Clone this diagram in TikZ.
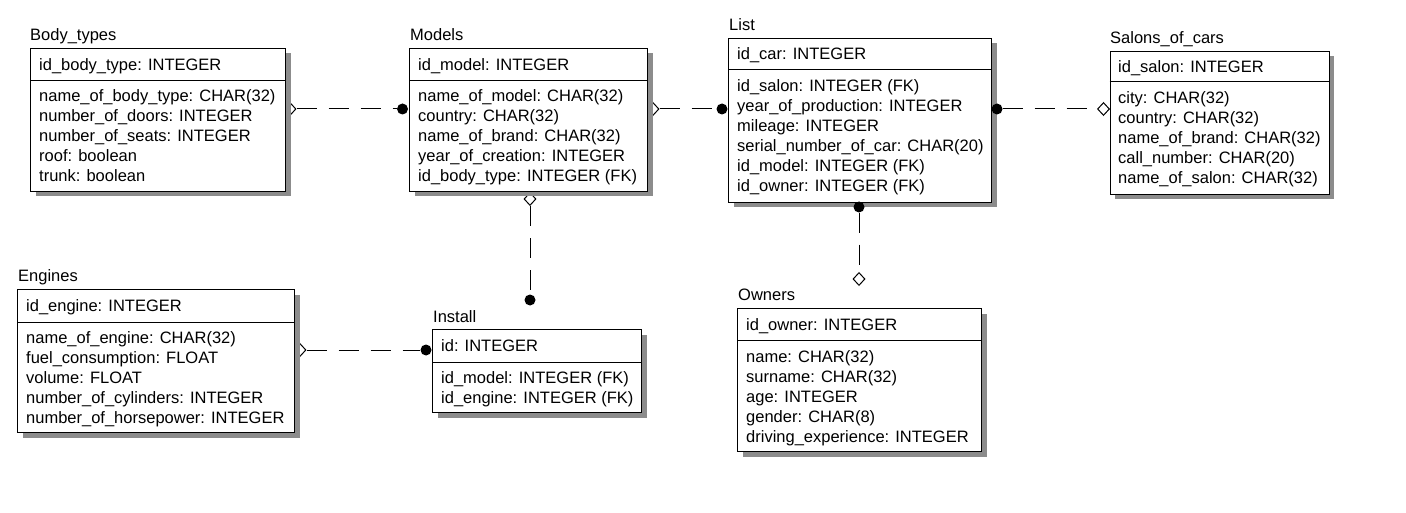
\documentclass[tikz,border=0pt]{standalone}
\usepackage{fontspec}
\setmainfont{Liberation Sans}
\usetikzlibrary{shapes.geometric,shadows}
\tikzset{
  tbl/.style={draw=black, line width=1pt, fill=white, inner sep=0pt, anchor=north west,
    drop shadow={shadow xshift=5pt, shadow yshift=-5pt, fill=black!45, opacity=1}},
  txt/.style={anchor=base west, inner sep=0pt, font=\fontsize{16.5}{20}\selectfont},
  sep/.style={line width=1pt},
  conn/.style={line width=1pt, dash pattern=on 20pt off 12pt},
  diam/.style={diamond, draw=black, line width=1pt, fill=white, inner sep=0pt, minimum width=12pt, minimum height=13pt},
  dotm/.style={circle, fill=black, inner sep=0pt, minimum size=11pt},
}
\begin{document}
\begin{tikzpicture}[x=1pt,y=-1pt]
\useasboundingbox (0,0) rectangle (1406,513);
\fill[white] (0,0) rectangle (1406,513);

% diamonds (drawn first so that the boxes hide half of some)
\node[diam] (d1) at (290,109) {};
\node[diam] (d2) at (653,109) {};
\node[diam] (d3) at (1103.5,109) {};
\node[diam] (d4) at (530,199) {};
\node[diam] (d5) at (300,350) {};
\node[diam] (d6) at (859,279) {};

% ---------- Body_types ----------
\node[tbl, minimum width=255pt, minimum height=143pt] (bt) at (30,48) {};
\draw[sep] (30,81) -- (285,81);
\node[txt] (bt-t) at (30,41) {Body\_types};
\node[txt] (bt-k) at (39,70.5) {id\_body\_type: INTEGER};
\foreach \t [count=\i] in {name\_of\_body\_type: CHAR(32), number\_of\_doors: INTEGER, number\_of\_seats: INTEGER, roof: boolean, trunk: boolean}
  \node[txt] (bt-r\i) at (39,{82+20*\i}) {\t};

% ---------- Models ----------
\node[tbl, minimum width=238pt, minimum height=143pt] (md) at (409,48) {};
\draw[sep] (409,81) -- (647,81);
\node[txt] (md-t) at (410,41) {Models};
\node[txt] (md-k) at (418,70.5) {id\_model: INTEGER};
\foreach \t [count=\i] in {name\_of\_model: CHAR(32), country: CHAR(32), name\_of\_brand: CHAR(32), year\_of\_creation: INTEGER, id\_body\_type: INTEGER (FK)}
  \node[txt] (md-r\i) at (418,{82+20*\i}) {\t};

% ---------- List ----------
\node[tbl, minimum width=263pt, minimum height=164pt] (li) at (728,38) {};
\draw[sep] (728,70) -- (991,70);
\node[txt] (li-t) at (729,31) {List};
\node[txt] (li-k) at (737,60) {id\_car: INTEGER};
\foreach \t [count=\i] in {id\_salon: INTEGER (FK), year\_of\_production: INTEGER, mileage: INTEGER, serial\_number\_of\_car: CHAR(20), id\_model: INTEGER (FK), id\_owner: INTEGER (FK)}
  \node[txt] (li-r\i) at (737,{72+20*\i}) {\t};

% ---------- Salons_of_cars ----------
\node[tbl, minimum width=219pt, minimum height=143pt] (sa) at (1109.5,51) {};
\draw[sep] (1109.5,82) -- (1328.5,82);
\node[txt] (sa-t) at (1110,44) {Salons\_of\_cars};
\node[txt] (sa-k) at (1118,72.5) {id\_salon: INTEGER};
\foreach \t [count=\i] in {city: CHAR(32), country: CHAR(32), name\_of\_brand: CHAR(32), call\_number: CHAR(20), name\_of\_salon: CHAR(32)}
  \node[txt] (sa-r\i) at (1118,{84+20*\i}) {\t};

% ---------- Engines ----------
\node[tbl, minimum width=277pt, minimum height=143pt] (en) at (17,289) {};
\draw[sep] (17,322) -- (294,322);
\node[txt] (en-t) at (18,282) {Engines};
\node[txt] (en-k) at (26,311.5) {id\_engine: INTEGER};
\foreach \t [count=\i] in {name\_of\_engine: CHAR(32), fuel\_consumption: FLOAT, volume: FLOAT, number\_of\_cylinders: INTEGER, number\_of\_horsepower: INTEGER}
  \node[txt] (en-r\i) at (26,{323+20*\i}) {\t};

% ---------- Install ----------
\node[tbl, minimum width=209pt, minimum height=83pt] (in) at (432,329) {};
\draw[sep] (432,362) -- (641,362);
\node[txt] (in-t) at (433,322) {Install};
\node[txt] (in-k) at (441,351.5) {id: INTEGER};
\foreach \t [count=\i] in {id\_model: INTEGER (FK), id\_engine: INTEGER (FK)}
  \node[txt] (in-r\i) at (441,{363+20*\i}) {\t};

% ---------- Owners ----------
\node[tbl, minimum width=244pt, minimum height=143pt] (ow) at (737,308) {};
\draw[sep] (737,340) -- (981,340);
\node[txt] (ow-t) at (738,301) {Owners};
\node[txt] (ow-k) at (746,330) {id\_owner: INTEGER};
\foreach \t [count=\i] in {name: CHAR(32), surname: CHAR(32), age: INTEGER, gender: CHAR(8), driving\_experience: INTEGER}
  \node[txt] (ow-r\i) at (746,{342+20*\i}) {\t};

% ---------- dots and connectors ----------
\node[dotm] (p1) at (402.5,109) {};
\node[dotm] (p2) at (722,109) {};
\node[dotm] (p3) at (997,109) {};
\node[dotm] (p4) at (530,300) {};
\node[dotm] (p5) at (426,350) {};
\node[dotm] (p6) at (859,207) {};

\draw[conn] (d1) -- (p1);
\draw[conn] (d2) -- (p2);
\draw[conn] (p3) -- (d3);
\draw[conn] (d4) -- (p4);
\draw[conn] (d5) -- (p5);
\draw[conn] (p6) -- (d6);
\end{tikzpicture}
\end{document}
